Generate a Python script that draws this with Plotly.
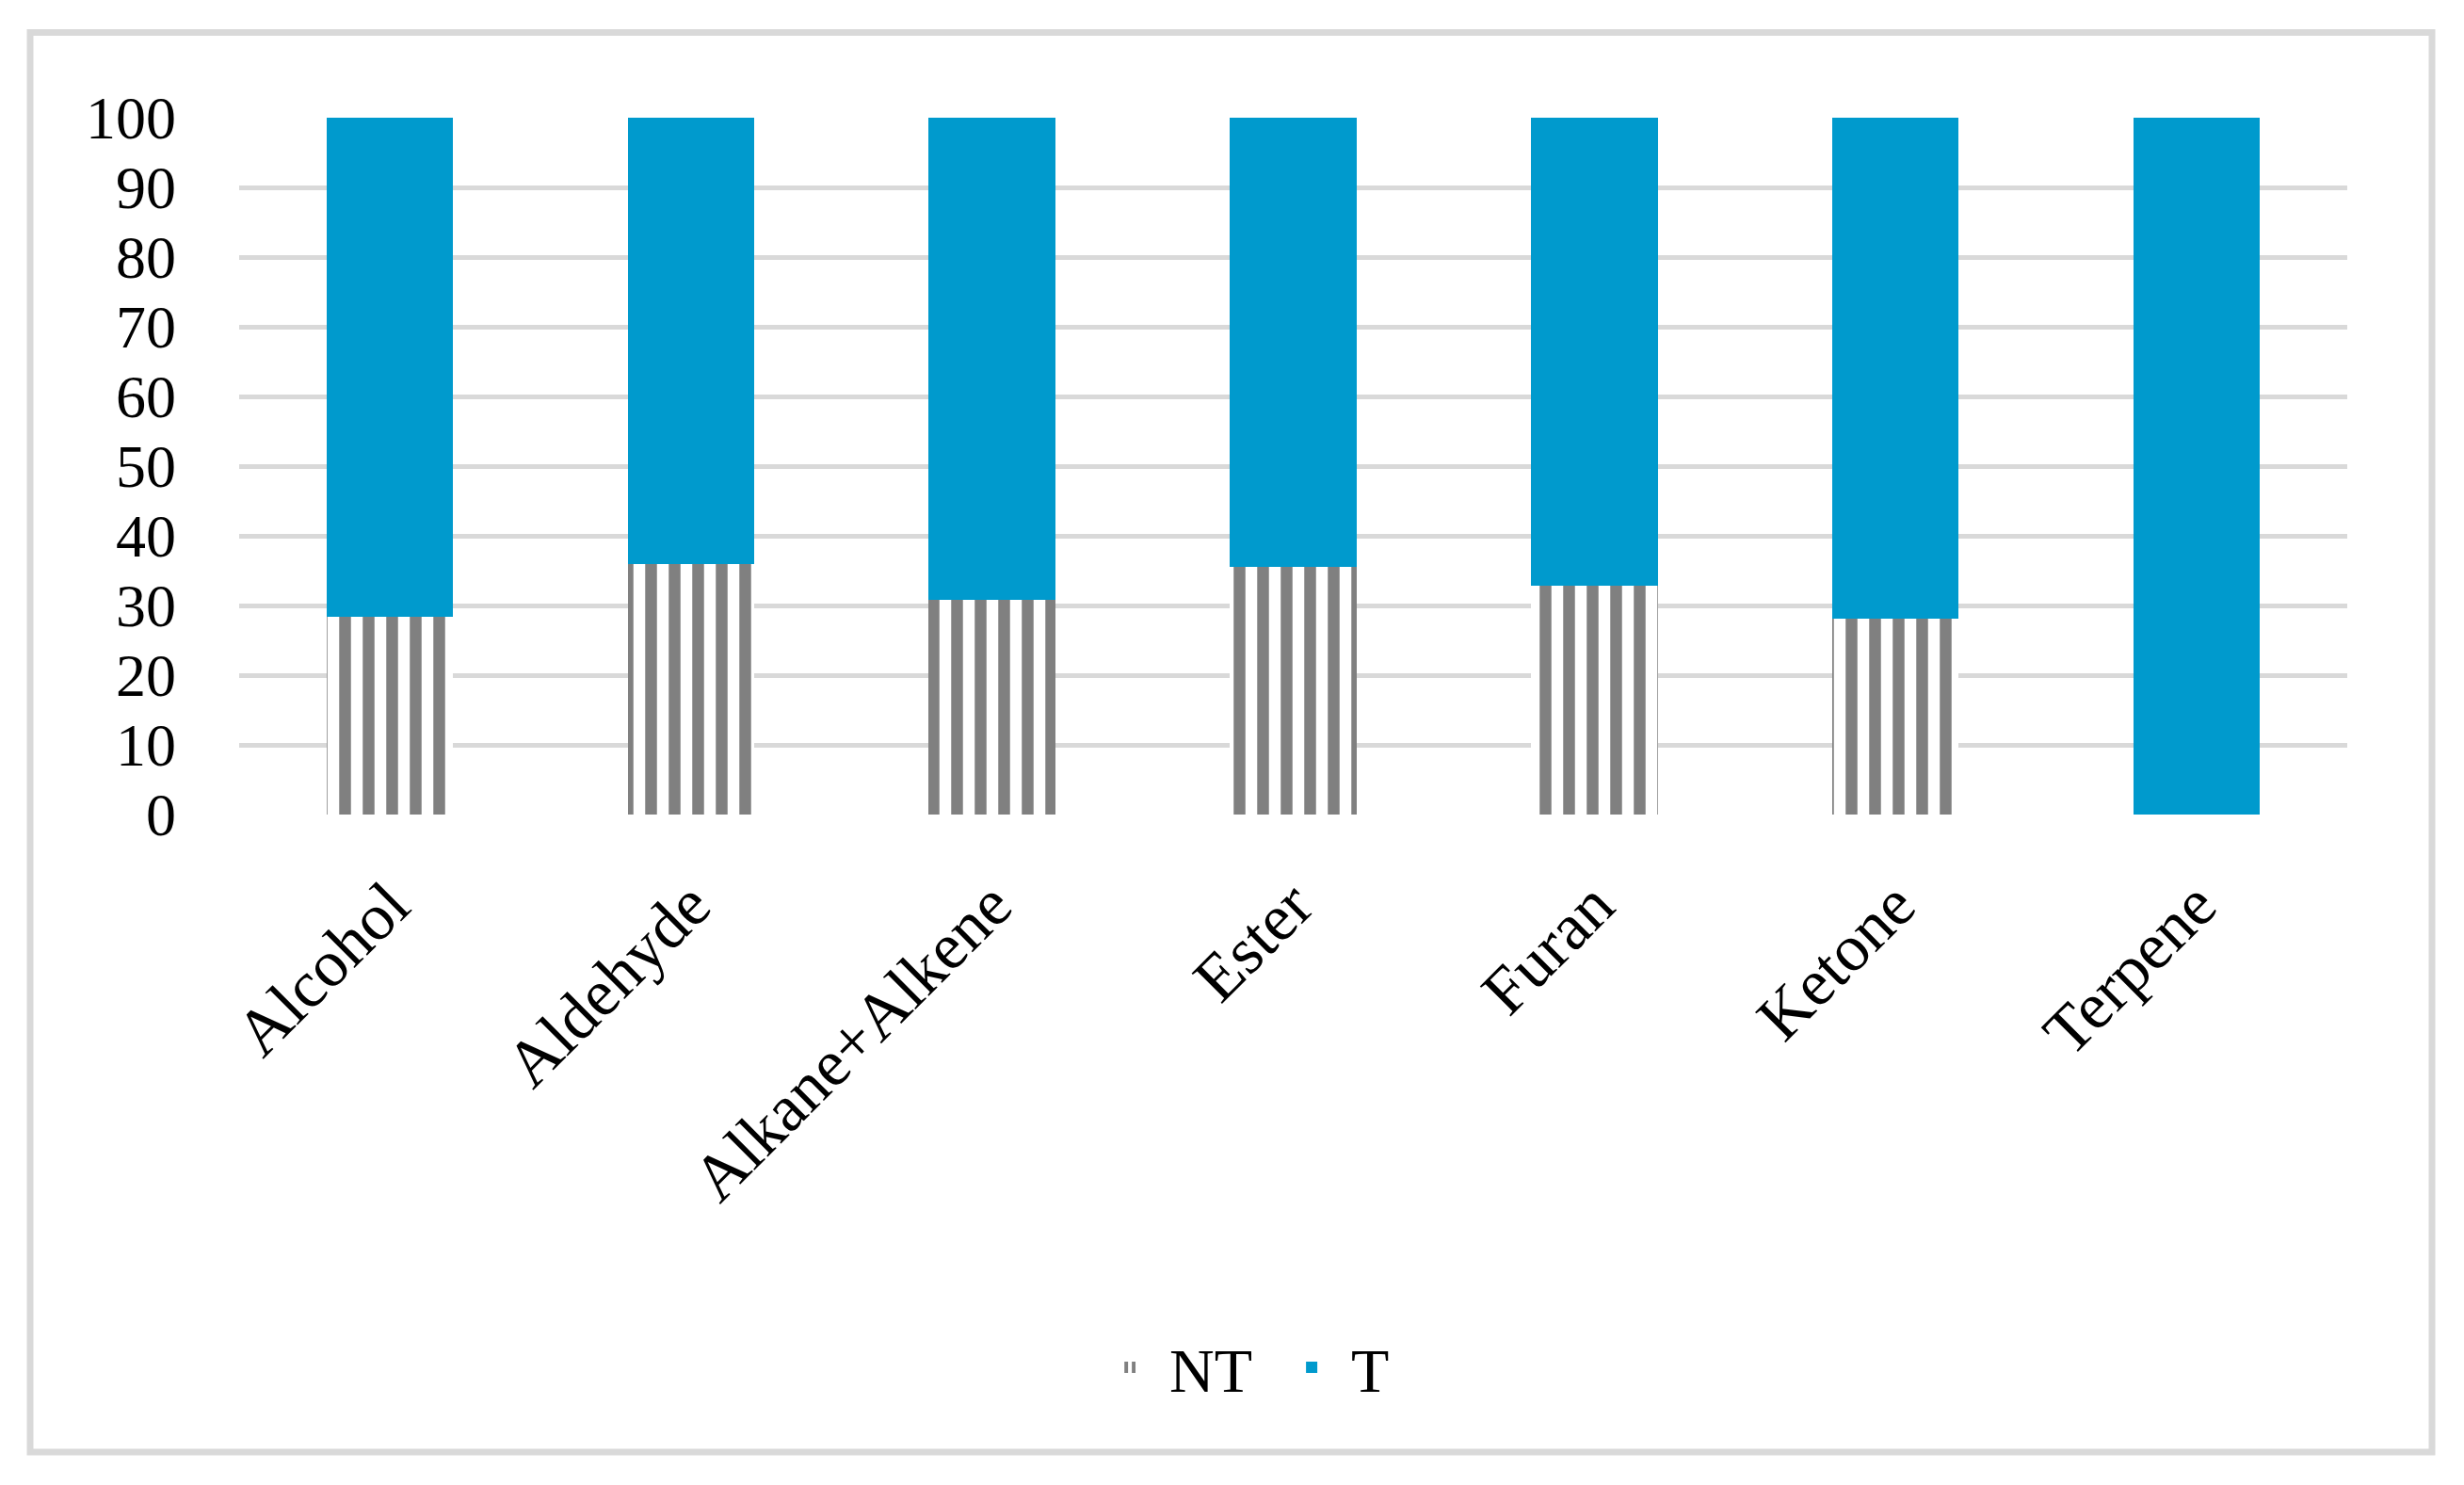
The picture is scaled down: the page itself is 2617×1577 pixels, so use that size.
import plotly.graph_objects as go

categories = ["Alcohol", "Aldehyde", "Alkane+Alkene", "Ester", "Furan", "Ketone", "Terpene"]
nt_values = [28.4, 35.9, 30.8, 35.5, 32.8, 28.1, 0]
t_values = [71.6, 64.1, 69.2, 64.5, 67.2, 71.9, 100]
y_ticks = [0, 10, 20, 30, 40, 50, 60, 70, 80, 90, 100]

# page has an 8px body margin; work in page pixels and subtract it
OFF = 8
W, H = 2617 - 2 * OFF, 1577 - 2 * OFF
L = 254 - OFF
T = 125 - OFF
R = W - (2493 - OFF)
B = H - (865 - OFF)
pw, ph = W - L - R, H - T - B

def px_x(x):
    return (x - OFF - L) / pw

def px_y(y):
    return (T + ph - (y - OFF)) / ph

FONT = "Liberation Serif"

fig = go.Figure()
fig.add_trace(go.Bar(
    x=categories, y=nt_values, name="NT",
    marker=dict(color="#808080",
                pattern=dict(shape="|", fgcolor="#808080", bgcolor="#ffffff",
                             size=25, solidity=0.5, fillmode="replace"),
                line=dict(width=0)),
))
fig.add_trace(go.Bar(
    x=categories, y=t_values, name="T",
    marker=dict(color="#009ACD", line=dict(width=0)),
))

fig.update_layout(
    width=W, height=H,
    margin=dict(l=L, r=R, t=T, b=B, autoexpand=False),
    barmode="stack", bargap=0.58,
    paper_bgcolor="#ffffff", plot_bgcolor="#ffffff",
    font=dict(family=FONT, size=64, color="#000000"),
    showlegend=True,
    legend=dict(orientation="h", x=0.49, xanchor="center",
                y=px_y(1452), yanchor="middle",
                font=dict(family=FONT, size=66, color="#000000"),
                traceorder="normal", itemwidth=74,
                entrywidth=104, entrywidthmode="pixels"),
    xaxis=dict(tickangle=-45, showgrid=False, showline=False, zeroline=False,
               ticks="", ticklabelstandoff=40,
               tickfont=dict(family=FONT, size=70, color="#000000")),
    yaxis=dict(range=[0, 100], tickvals=y_ticks, showgrid=True,
               gridcolor="#d9d9d9", gridwidth=5, zeroline=False, showline=False,
               ticks="", ticklabelstandoff=66,
               tickfont=dict(family=FONT, size=64, color="#000000")),
    shapes=[dict(type="rect", xref="paper", yref="paper",
                 x0=px_x(32), x1=px_x(2583), y0=px_y(1542), y1=px_y(34.5),
                 line=dict(color="#d9d9d9", width=7), fillcolor="rgba(0,0,0,0)",
                 layer="below")],
)

fig.write_html("out.html")
